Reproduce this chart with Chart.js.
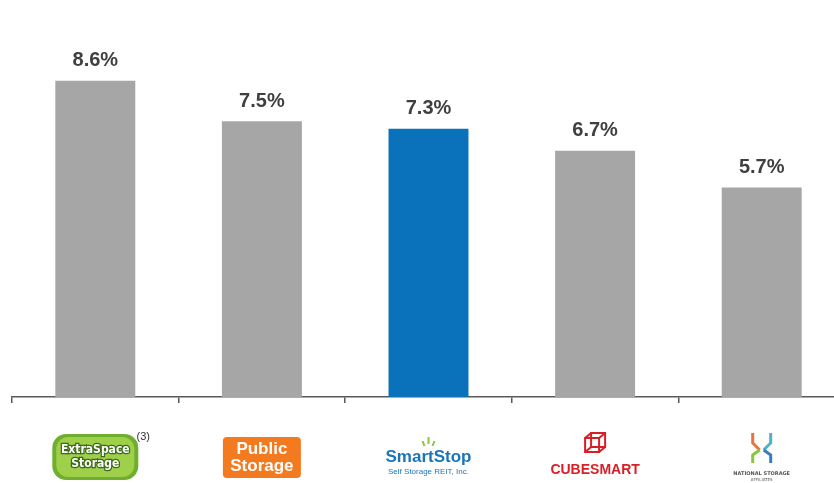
<!DOCTYPE html>
<html>
<head>
<meta charset="utf-8">
<script src="https://cdn.jsdelivr.net/npm/chart.js@4.4.1/dist/chart.umd.min.js"></script>
<style>
  body { margin: 0; background: #fff; overflow: hidden; }
  #wrap { width: 845px; height: 483px; }
</style>
</head>
<body>
<div id="wrap"><canvas id="myChart" width="845" height="483"></canvas></div>
<script>
var companies = ["Extra Space Storage", "Public Storage", "SmartStop Self Storage REIT, Inc.", "CubeSmart", "National Storage Affiliates"];
var values = [8.6, 7.5, 7.3, 6.7, 5.7];
var barColors = ['#a6a6a6', '#a6a6a6', '#0a72ba', '#a6a6a6', '#a6a6a6'];

function roundRect(ctx, x, y, w, h, r) {
	ctx.beginPath();
	ctx.moveTo(x + r, y);
	ctx.arcTo(x + w, y, x + w, y + h, r);
	ctx.arcTo(x + w, y + h, x, y + h, r);
	ctx.arcTo(x, y + h, x, y, r);
	ctx.arcTo(x, y, x + w, y, r);
	ctx.closePath();
}

// logos under the axis, drawn at each category's centre
var logos = [
	function (ctx, cx) {
		ctx.fillStyle = '#6fae2e';
		roundRect(ctx, cx - 43, 434, 86, 46, 14); ctx.fill();
		ctx.fillStyle = '#9fd04a';
		roundRect(ctx, cx - 39, 437, 78, 40, 12); ctx.fill();
		ctx.font = 'bold 12px "DejaVu Sans Condensed", "Liberation Sans Narrow", sans-serif';
		ctx.textAlign = 'center'; ctx.textBaseline = 'middle';
		ctx.lineWidth = 2.5; ctx.strokeStyle = '#3d6b1a'; ctx.fillStyle = '#fff';
		ctx.strokeText('ExtraSpace', cx, 450); ctx.fillText('ExtraSpace', cx, 450);
		ctx.strokeText('Storage', cx, 464); ctx.fillText('Storage', cx, 464);
		ctx.font = '11px "Liberation Sans", Arial, sans-serif';
		ctx.fillStyle = '#333';
		ctx.fillText('(3)', cx + 48, 437);
	},
	function (ctx, cx) {
		ctx.fillStyle = '#f47a20';
		roundRect(ctx, cx - 39, 437, 78, 41, 4); ctx.fill();
		ctx.font = 'bold 17px "Liberation Sans", Arial, sans-serif';
		ctx.textAlign = 'center'; ctx.textBaseline = 'middle';
		ctx.fillStyle = '#fff';
		ctx.fillText('Public', cx, 449);
		ctx.fillText('Storage', cx, 466);
	},
	function (ctx, cx) {
		ctx.strokeStyle = '#8cc63f'; ctx.lineWidth = 2;
		[[-6, 441, -4, 446], [0, 437, 0, 444], [6, 441, 4, 446]].forEach(function (s) {
			ctx.beginPath(); ctx.moveTo(cx + s[0], s[1]); ctx.lineTo(cx + s[2], s[3]); ctx.stroke();
		});
		ctx.textAlign = 'center'; ctx.textBaseline = 'middle';
		ctx.fillStyle = '#1a75bb';
		ctx.font = 'bold 17px "Liberation Sans", Arial, sans-serif';
		ctx.fillText('SmartStop', cx, 457);
		ctx.font = '8px "Liberation Sans", Arial, sans-serif';
		ctx.fillText('Self Storage REIT, Inc.', cx, 472);
	},
	function (ctx, cx) {
		ctx.strokeStyle = '#d71f26'; ctx.lineWidth = 2;
		ctx.strokeRect(cx - 10, 438, 14, 14);
		ctx.strokeRect(cx - 4, 433, 14, 14);
		ctx.beginPath();
		ctx.moveTo(cx - 10, 438); ctx.lineTo(cx - 4, 433);
		ctx.moveTo(cx + 4, 438); ctx.lineTo(cx + 10, 433);
		ctx.moveTo(cx - 10, 452); ctx.lineTo(cx - 4, 447);
		ctx.moveTo(cx + 4, 452); ctx.lineTo(cx + 10, 447);
		ctx.stroke();
		ctx.textAlign = 'center'; ctx.textBaseline = 'middle';
		ctx.fillStyle = '#d71f26';
		ctx.font = 'bold 14px "Liberation Sans Narrow", "Liberation Sans", Arial, sans-serif';
		ctx.fillText('CUBESMART', cx, 470);
	},
	function (ctx, cx) {
		var cols = ['#e8743b', '#4fb0c6', '#8cc63f', '#3a7dc1'];
		ctx.lineWidth = 3;
		ctx.strokeStyle = cols[0];
		ctx.beginPath(); ctx.moveTo(cx - 9, 433); ctx.lineTo(cx - 9, 443); ctx.lineTo(cx - 2, 450); ctx.stroke();
		ctx.strokeStyle = cols[1];
		ctx.beginPath(); ctx.moveTo(cx + 9, 433); ctx.lineTo(cx + 9, 443); ctx.lineTo(cx + 2, 450); ctx.stroke();
		ctx.strokeStyle = cols[2];
		ctx.beginPath(); ctx.moveTo(cx - 9, 463); ctx.lineTo(cx - 9, 455); ctx.lineTo(cx - 2, 450); ctx.stroke();
		ctx.strokeStyle = cols[3];
		ctx.beginPath(); ctx.moveTo(cx + 9, 463); ctx.lineTo(cx + 9, 455); ctx.lineTo(cx + 2, 450); ctx.stroke();
		ctx.textAlign = 'center'; ctx.textBaseline = 'middle';
		ctx.fillStyle = '#555';
		ctx.font = 'bold 5px "DejaVu Sans", sans-serif';
		ctx.fillText('NATIONAL STORAGE', cx, 474);
		ctx.font = '4px "DejaVu Sans", sans-serif';
		ctx.fillText('AFFILIATES', cx, 480);
	}
];

var labelPlugin = {
	id: 'labels',
	afterDatasetsDraw: function (chart) {
		var ctx = chart.ctx;
		var meta = chart.getDatasetMeta(0);
		ctx.save();
		ctx.font = 'bold 20px "Liberation Sans", Arial, sans-serif';
		ctx.fillStyle = '#3f3f3f';
		ctx.textAlign = 'center';
		ctx.textBaseline = 'bottom';
		meta.data.forEach(function (bar, i) {
			ctx.fillText(values[i].toFixed(1) + '%', bar.x, bar.y - 10);
		});
		var xs = chart.scales.x;
		logos.forEach(function (draw, i) {
			ctx.save();
			draw(ctx, xs.getPixelForValue(i));
			ctx.restore();
		});
		ctx.restore();
	}
};

var ctx = document.getElementById('myChart').getContext('2d');
var chart = new Chart(ctx, {
	type: 'bar',
	data: {
		labels: companies,
		datasets: [{
			data: values,
			backgroundColor: barColors,
			barPercentage: 0.48,
			categoryPercentage: 1
		}]
	},
	options: {
		responsive: false,
		animation: false,
		layout: { padding: { left: 12, right: 0, top: 0, bottom: 0 } },
		plugins: { legend: { display: false }, tooltip: { enabled: false } },
		scales: {
			x: {
				offset: true,
				border: { display: true, color: '#595959', width: 1.5 },
				grid: { display: true, drawOnChartArea: false, offset: true, tickLength: 6, color: '#595959', lineWidth: 1.5 },
				ticks: { display: false },
				afterFit: function (scale) { scale.height = 86; }
			},
			y: {
				display: false,
				min: 0,
				max: 10.8
			}
		}
	},
	plugins: [labelPlugin]
});
</script>
</body>
</html>
